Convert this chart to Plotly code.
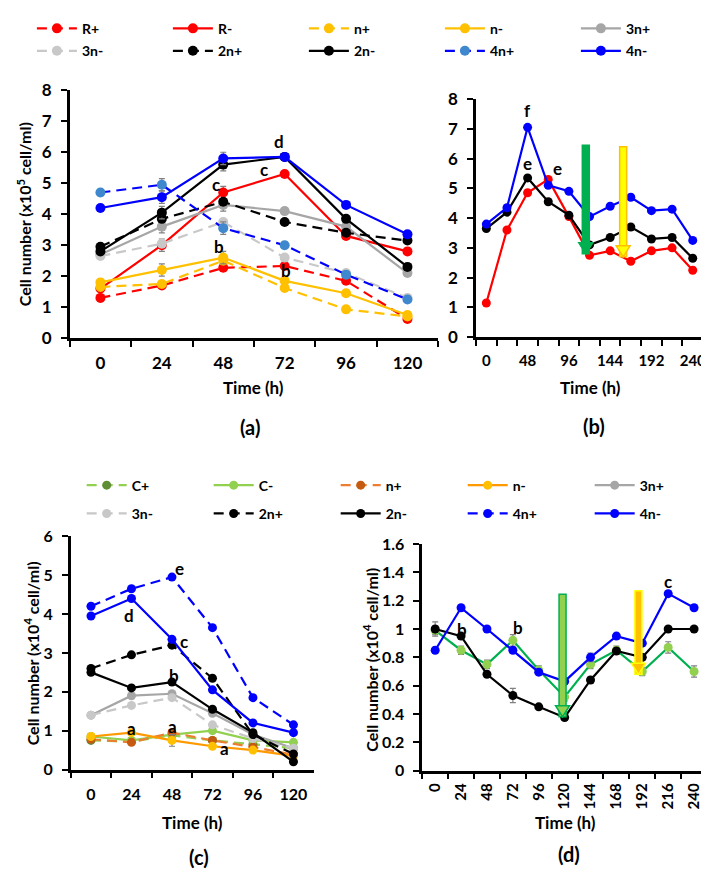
import plotly.graph_objects as go

FONT = "Lato"
W, H = 709, 876

# ---------------- data ----------------
a_times = ["0", "24", "48", "72", "96", "120"]
a_Rp  = [1.3, 1.7, 2.27, 2.33, 1.85, 0.62]
a_Rm  = [1.6, 3.0, 4.7, 5.3, 3.3, 2.8]
a_np  = [1.65, 1.75, 2.5, 1.62, 0.93, 0.7]
a_nm  = [1.8, 2.2, 2.6, 1.85, 1.45, 0.75]
a_3np = [2.7, 3.6, 4.3, 4.1, 3.6, 2.1]
a_3nm = [2.65, 3.05, 3.75, 2.6, 2.1, 1.3]
a_2np = [2.95, 3.85, 4.4, 3.75, 3.4, 3.15]
a_2nm = [2.8, 4.05, 5.6, 5.85, 3.85, 2.3]
a_4np = [4.7, 4.95, 3.55, 3.0, 2.05, 1.25]
a_4nm = [4.2, 4.55, 5.8, 5.85, 4.3, 3.35]
a_err = [0.1, 0.2, 0.2, 0.1, 0.1, 0.1]

b_times = ["0", "24", "48", "72", "96", "120", "144", "168", "192", "216", "240"]
b_ticktext = ["0", "", "48", "", "96", "", "144", "", "192", "", "240"]
b_R  = [1.15, 3.6, 4.85, 5.3, 4.05, 2.75, 2.9, 2.55, 2.9, 3.0, 2.25]
b_2n = [3.65, 4.2, 5.35, 4.55, 4.1, 3.1, 3.35, 3.7, 3.3, 3.35, 2.65]
b_4n = [3.8, 4.35, 7.05, 5.1, 4.9, 4.05, 4.4, 4.7, 4.25, 4.3, 3.25]

c_times = ["0", "24", "48", "72", "96", "120"]
c_Cp  = [0.75, 0.72, 0.88, 0.75, 0.65, 0.55]
c_Cm  = [0.85, 0.75, 0.9, 1.0, 0.75, 0.7]
c_np  = [0.78, 0.7, 0.95, 0.75, 0.58, 0.38]
c_nm  = [0.85, 0.95, 0.75, 0.6, 0.5, 0.35]
c_3np = [1.4, 1.9, 1.95, 1.45, 0.9, 0.55]
c_3nm = [1.4, 1.65, 1.85, 1.15, 0.8, 0.55]
c_2np = [2.6, 2.95, 3.2, 2.35, 0.9, 0.4]
c_2nm = [2.5, 2.1, 2.25, 1.55, 0.95, 0.2]
c_4np = [4.2, 4.65, 4.95, 3.65, 1.85, 1.15]
c_4nm = [3.95, 4.4, 3.35, 2.05, 1.2, 0.95]
c_err = [0.05, 0.05, 0.15, 0.05, 0.05, 0.05]

d_times = ["0", "24", "48", "72", "96", "120", "144", "168", "192", "216", "240"]
d_C  = [0.99, 0.85, 0.75, 0.92, 0.71, 0.52, 0.75, 0.85, 0.70, 0.87, 0.70]
d_2n = [1.0, 0.95, 0.68, 0.53, 0.45, 0.375, 0.64, 0.845, 0.8, 1.0, 1.0]
d_4n = [0.85, 1.15, 1.0, 0.85, 0.695, 0.63, 0.8, 0.95, 0.9, 1.25, 1.15]
d_C_err  = [0.03, 0.03, 0.03, 0.04, 0.03, 0.03, 0.03, 0.03, 0.03, 0.04, 0.04]
d_2n_err = [0.05, 0.02, 0.02, 0.05, 0.01, 0.02, 0.02, 0.02, 0.02, 0.01, 0.01]
d_4n_err = [0.02, 0.02, 0.01, 0.02, 0.02, 0.02, 0.03, 0.02, 0.02, 0.02, 0.02]

# significance letters: (axis suffix, category, value, text, xshift px)
letters = [
    ("", "48", 4.95, "c", -7), ("", "72", 6.35, "d", -6), ("", "72", 5.45, "c", -21),
    ("", "48", 2.96, "b", -4), ("", "72", 2.17, "b", 1),
    ("2", "48", 7.62, "f", 0), ("2", "48", 5.82, "e", 0), ("2", "72", 5.65, "e", 9),
    ("3", "48", 5.16, "e", 8), ("3", "24", 3.95, "d", -2), ("3", "48", 3.3, "c", 12),
    ("3", "48", 2.41, "b", 2), ("3", "24", 1.06, "a", 0), ("3", "48", 1.1, "a", 1),
    ("3", "72", 0.55, "a", 12),
    ("4", "24", 1.0, "b", 1), ("4", "72", 1.01, "b", 5), ("4", "216", 1.335, "c", 0),
]

# treatment arrows: (axis suffix, category position, top value, tip value, fill, outline)
arrows = [
    ("2", 4.82, 6.45, 2.8, "#00B050", "#00B050"),
    ("2", 6.63, 6.4, 2.7, "#FFFF00", "#FFC000"),
    ("4", 4.92, 1.245, 0.38, "#92D050", "#00B050"),
    ("4", 7.85, 1.27, 0.68, "#FFC000", "#FFFF00"),
]

RED, GOLD, GRAY, LGRAY, BLACK, BLUE = "#FF0000", "#FFC000", "#A6A6A6", "#C8C8C8", "#000000", "#0000FF"
ERRC = "#808080"
DASH = "10px,6px"

fig = go.Figure()


def series(x, y, name, color, dash, mcolor, ax, legend=None, size=10, err=None, lw=2.2):
    fig.add_trace(go.Scatter(
        x=x, y=y, name=name, mode="lines+markers",
        line=dict(color=color, width=lw, dash=dash),
        marker=dict(color=mcolor, size=size),
        xaxis="x" + ax, yaxis="y" + ax,
        legend=legend if legend else "legend",
        showlegend=legend is not None,
        error_y=dict(type="data", array=err if err is not None else [0] * len(y),
                     visible=err is not None, color=ERRC, thickness=1.2, width=3),
    ))


# panel (a)
series(a_times, a_Rp, "R+", RED, DASH, RED, "", "legend")
series(a_times, a_Rm, "R-", RED, "solid", RED, "", "legend", err=a_err)
series(a_times, a_np, "n+", GOLD, DASH, GOLD, "", "legend")
series(a_times, a_nm, "n-", GOLD, "solid", GOLD, "", "legend", err=a_err)
series(a_times, a_3np, "3n+", GRAY, "solid", GRAY, "", "legend", err=a_err)
series(a_times, a_3nm, "3n-", LGRAY, DASH, LGRAY, "", "legend2")
series(a_times, a_2np, "2n+", BLACK, DASH, BLACK, "", "legend2")
series(a_times, a_2nm, "2n-", BLACK, "solid", BLACK, "", "legend2", err=a_err)
series(a_times, a_4np, "4n+", BLUE, DASH, "#3F88CE", "", "legend2", err=a_err)
series(a_times, a_4nm, "4n-", BLUE, "solid", BLUE, "", "legend2", err=a_err)

# panel (b)
series(b_times, b_R, "R-", RED, "solid", RED, "2", size=9)
series(b_times, b_2n, "2n-", BLACK, "solid", BLACK, "2", size=9)
series(b_times, b_4n, "4n-", BLUE, "solid", BLUE, "2", size=9)

# panel (c)
series(c_times, c_Cp, "C+", "#92D050", DASH, "#5E8E34", "3", "legend3", size=9)
series(c_times, c_Cm, "C-", "#92D050", "solid", "#92D050", "3", "legend3", size=9)
series(c_times, c_np, "n+", "#ED7D31", DASH, "#C55A11", "3", "legend3", size=9)
series(c_times, c_nm, "n-", "#FF9900", "solid", GOLD, "3", "legend3", size=9, err=c_err)
series(c_times, c_3np, "3n+", GRAY, "solid", GRAY, "3", "legend3", size=9)
series(c_times, c_3nm, "3n-", LGRAY, DASH, LGRAY, "3", "legend4", size=9)
series(c_times, c_2np, "2n+", BLACK, DASH, BLACK, "3", "legend4", size=9)
series(c_times, c_2nm, "2n-", BLACK, "solid", BLACK, "3", "legend4", size=9)
series(c_times, c_4np, "4n+", BLUE, DASH, BLUE, "3", "legend4", size=9)
series(c_times, c_4nm, "4n-", BLUE, "solid", BLUE, "3", "legend4", size=9)

# panel (d)
series(d_times, d_C, "C-", "#00B050", "solid", "#92D050", "4", size=9, err=d_C_err)
series(d_times, d_2n, "2n-", BLACK, "solid", BLACK, "4", size=9, err=d_2n_err)
series(d_times, d_4n, "4n-", BLUE, "solid", BLUE, "4", size=9, err=d_4n_err)

# ---------------- axes ----------------
def fx(px):
    return px / W


def fy(py):
    return 1 - py / H


panels = {
    "":  dict(x=(62, 432), y=(73, 327), yr=[0, 8], dt=1, cats=a_times),
    "2": dict(x=(470, 698), y=(82, 326), yr=[0, 8], dt=1, cats=b_times),
    "3": dict(x=(63, 307), y=(530, 769), yr=[0, 6], dt=1, cats=c_times),
    "4": dict(x=(416, 702), y=(538, 770), yr=[0, 1.6], dt=0.2, cats=d_times),
}


def tfont(size):
    return dict(family=FONT, size=size, color="black", weight="bold")


axis_common = dict(showline=True, linecolor="black", linewidth=2.5, ticks="outside",
                   ticklen=6, tickwidth=2, tickcolor="black", showgrid=False, zeroline=False,
                   tickfont=tfont(16))

layout = {}
for sfx, p in panels.items():
    n = len(p["cats"])
    xa = dict(axis_common, domain=[fx(p["x"][0]), fx(p["x"][1])], type="category",
              categoryorder="array", categoryarray=p["cats"], range=[-0.5, n - 0.5],
              tickson="boundaries", anchor="y" + sfx, ticklabelstandoff=8, tickangle=0)
    ya = dict(axis_common, domain=[fy(p["y"][1]), fy(p["y"][0])], range=p["yr"],
              dtick=p["dt"], tick0=0, anchor="x" + sfx, ticklabelstandoff=6)
    layout["xaxis" + sfx] = xa
    layout["yaxis" + sfx] = ya

layout["xaxis"]["tickfont"] = tfont(17)
layout["yaxis"]["tickfont"] = tfont(17)
layout["xaxis2"].update(tickmode="array", tickvals=b_times, ticktext=b_ticktext, tickfont=tfont(15))
layout["yaxis2"]["tickfont"] = tfont(17)
layout["xaxis4"].update(tickangle=-90, ticklabelstandoff=4, tickfont=tfont(15))

fig.update_layout(**layout)

# ---------------- text ----------------
annotations = []


def text(x, y, s, size, angle=0):
    annotations.append(dict(x=fx(x), y=fy(y), xref="paper", yref="paper", text=s,
                            showarrow=False, textangle=angle, xanchor="center", yanchor="middle",
                            font=tfont(size)))


text(247, 378, "Time (h)", 17)
text(585, 378, "Time (h)", 17)
text(185, 823, "Time (h)", 17)
text(560, 823, "Time (h)", 17)
text(243, 418, "(a)", 20)
text(588, 417, "(b)", 20)
text(192, 859, "(c)", 20)
text(563, 856, "(d)", 20)
text(16, 200, "Cell number (x10<sup>5</sup> cell/ml)", 16, -90)
text(24, 650, "Cell number (x10<sup>4</sup> cell/ml)", 16, -90)
text(364, 656, "Cell number (x10<sup>4</sup> cell/ml)", 16, -90)

for sfx, cat, val, s, xs in letters:
    cats = panels[sfx]["cats"]
    annotations.append(dict(x=cats.index(cat), y=val, xref="x" + sfx, yref="y" + sfx, text=s,
                            showarrow=False, xshift=xs, xanchor="center", yanchor="middle",
                            font=tfont(17)))

shapes = []
for sfx, xpos, ytop, ytip, fill, outline in arrows:
    shapes.append(dict(type="rect", xref="x" + sfx, yref="y" + sfx, xsizemode="pixel", xanchor=xpos,
                       x0=-3.5, x1=3.5, y0=ytop, y1=ytip, fillcolor=fill,
                       line=dict(color=outline, width=1.5), layer="above"))
    shapes.append(dict(type="path", xref="x" + sfx, yref="y" + sfx, xsizemode="pixel", ysizemode="pixel",
                       xanchor=xpos, yanchor=ytip, path="M -7,11 L 7,11 L 0,0 Z",
                       fillcolor=fill, line=dict(color=outline, width=1.5), layer="above"))

legend_common = dict(orientation="h", xanchor="left", yanchor="middle", bgcolor="rgba(0,0,0,0)",
                     font=tfont(14), itemwidth=40, entrywidthmode="pixels", traceorder="normal")

fig.update_layout(
    width=W, height=H, margin=dict(l=0, r=0, t=0, b=0),
    paper_bgcolor="white", plot_bgcolor="white",
    annotations=annotations, shapes=shapes,
    legend=dict(legend_common, x=fx(24), y=fy(10), entrywidth=81),
    legend2=dict(legend_common, x=fx(24), y=fy(33), entrywidth=81),
    legend3=dict(legend_common, x=fx(74), y=fy(478), entrywidth=72),
    legend4=dict(legend_common, x=fx(74), y=fy(507), entrywidth=72),
)

fig.write_html("out.html")
